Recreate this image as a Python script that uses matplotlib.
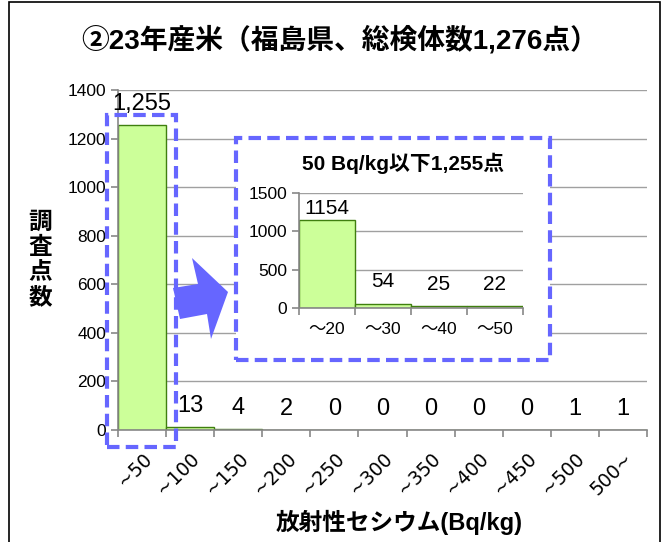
import matplotlib
matplotlib.use("Agg")
import matplotlib.pyplot as plt
from matplotlib.patches import Rectangle, Polygon

plt.rcParams['font.family'] = ['Liberation Sans', 'Noto Sans CJK JP', 'DejaVu Sans']

# データ
categories = ["~50", "~100", "~150", "~200", "~250", "~300", "~350",
              "~400", "~450", "~500", "500~"]
counts = [1255, 13, 4, 2, 0, 0, 0, 0, 0, 1, 1]
count_labels = ["1,255", "13", "4", "2", "0", "0", "0", "0", "0", "1", "1"]

inset_categories = ["～20", "～30", "～40", "～50"]
inset_counts = [1154, 54, 25, 22]

title = "②23年産米（福島県、総検体数1,276点）"
inset_title = "50 Bq/kg以下1,255点"
ylabel = "調査点数"
xlabel = "放射性セシウム(Bq/kg)"

W, H = 667, 542
BAR = "#CCFF99"
EDGE = "#3F7F0F"
GRID = "#A0A0A0"
BLUE = "#6666FF"


def px(x, y):
    # ピクセル座標 -> figure座標
    return x / W, 1 - y / H


def box(x0, y0, x1, y1):
    return [x0 / W, 1 - y1 / H, (x1 - x0) / W, (y1 - y0) / H]


def style_axes(ax, ymax, ystep, n, fs):
    ax.set_xlim(-0.5, n - 0.5)
    ax.set_ylim(0, ymax)
    ax.set_yticks(range(0, ymax + 1, ystep))
    ax.set_xticks([i - 0.5 for i in range(n + 1)])
    ax.set_xticklabels([])
    ax.yaxis.grid(True, color=GRID, lw=1)
    ax.set_axisbelow(True)
    for s in ["top", "right"]:
        ax.spines[s].set_visible(False)
    for s in ["left", "bottom"]:
        ax.spines[s].set_color("#888888")
        ax.spines[s].set_linewidth(1.2)
    ax.tick_params(axis="both", colors="#888888", width=1.2, length=5,
                   labelcolor="black", labelsize=fs)


fig = plt.figure(figsize=(W / 100, H / 100), dpi=100)

# 枠線
fig.patches.append(Rectangle(px(9, 560), 651 / W, 558 / H, transform=fig.transFigure,
                             fill=False, edgecolor="black", lw=1.2, zorder=0))

# メインのグラフ
ax = fig.add_axes(box(118, 90, 647, 430))
x = list(range(len(counts)))
ax.bar(x, counts, width=1.0, color=BAR, edgecolor=EDGE, lw=1.0)
style_axes(ax, 1400, 200, len(counts), 12.5)
ax.set_xticks(x, minor=True)
ax.set_xticklabels(categories, minor=True, rotation=45, ha="right",
                   rotation_mode="anchor", fontsize=13.5, family="DejaVu Sans")
ax.tick_params(axis="x", which="minor", length=0, pad=14)
for xi, v, lab in zip(x, counts, count_labels):
    ax.annotate(lab, (xi, v), xytext=(0, 7), textcoords="offset points",
                ha="center", va="bottom", fontsize=17)

# 枠（点線）
fig.patches.append(Rectangle(px(107, 447), 69 / W, 332 / H, transform=fig.transFigure,
                             fill=False, edgecolor=BLUE, lw=3, ls=(0, (3, 1.5)),
                             zorder=5))
fig.patches.append(Rectangle(px(236, 360), 314 / W, 222 / H, transform=fig.transFigure,
                             facecolor="white", edgecolor=BLUE, lw=3,
                             ls=(0, (3, 1.5)), zorder=5))

# 矢印
arrow_pts = [(173, 288), (198, 284), (192, 258), (228, 292), (211, 339),
             (207, 314), (180, 319)]
fig.patches.append(Polygon([px(a, b) for a, b in arrow_pts], closed=True,
                           transform=fig.transFigure, facecolor=BLUE,
                           edgecolor="none", zorder=6))

# 拡大図
ax2 = fig.add_axes(box(299, 193, 523, 308), zorder=10)
xi2 = list(range(len(inset_counts)))
ax2.bar(xi2, inset_counts, width=1.0, color=BAR, edgecolor=EDGE, lw=1.0)
style_axes(ax2, 1500, 500, len(inset_counts), 12.5)
ax2.set_xticks(xi2, minor=True)
ax2.set_xticklabels(inset_categories, minor=True, fontsize=12.5)
ax2.tick_params(axis="x", which="minor", length=0, pad=10)
for xi, v in zip(xi2, inset_counts):
    off = 1 if v > 1000 else 9
    ax2.annotate(str(v), (xi, v), xytext=(0, off), textcoords="offset points",
                 ha="center", va="bottom", fontsize=15)
fig.text(*px(403, 163), inset_title, ha="center", va="center",
         fontsize=15, fontweight="bold", zorder=11)

# タイトル・軸ラベル
fig.text(*px(340, 40), title, ha="center", va="center", fontsize=20,
         fontweight="bold")
fig.text(*px(40, 260), "\n".join(ylabel), ha="center", va="center",
         fontsize=17, fontweight="bold", linespacing=1.12)
fig.text(*px(399, 522), xlabel, ha="center", va="center", fontsize=17,
         fontweight="bold")

fig.savefig("out.png", dpi=100)
